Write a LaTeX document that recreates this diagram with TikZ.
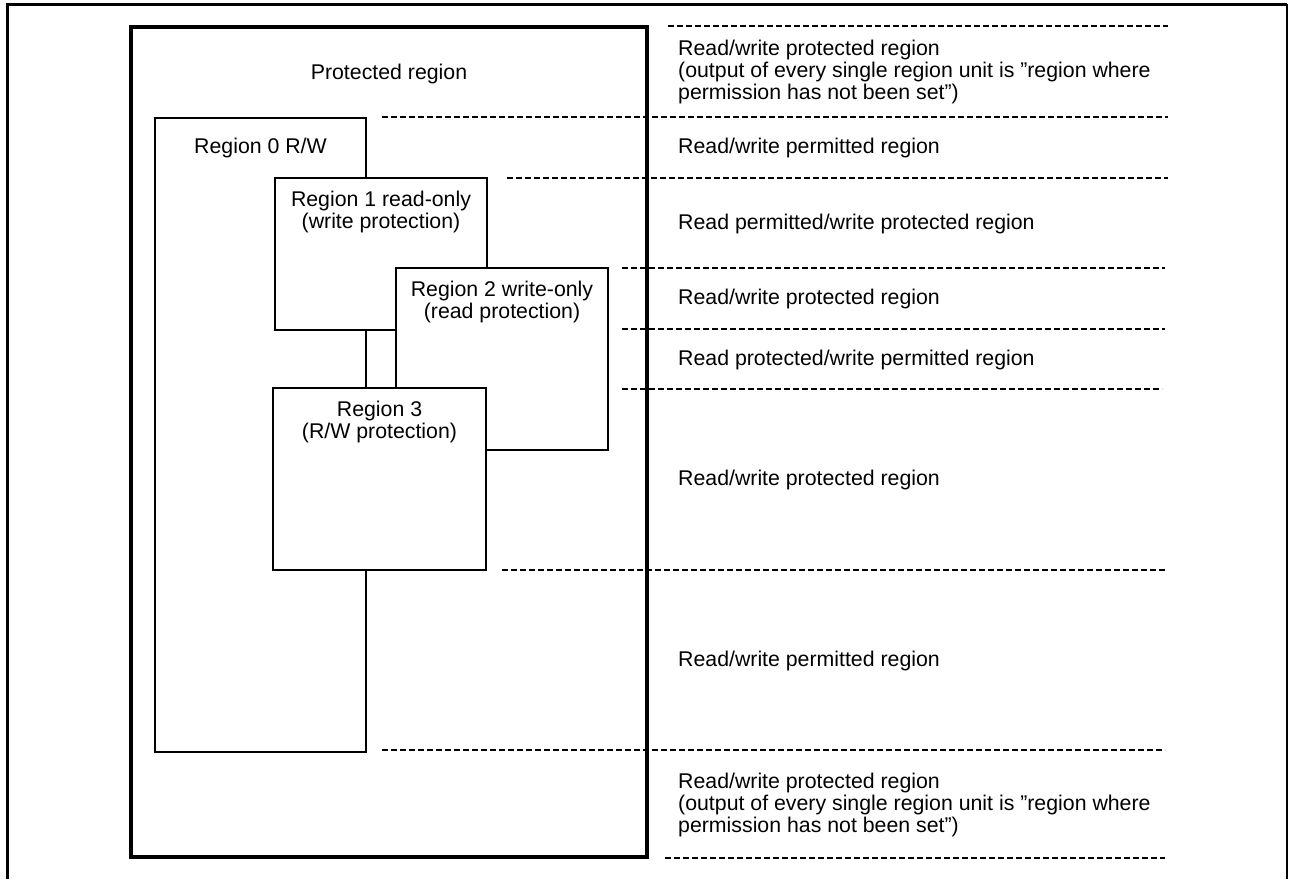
\documentclass[tikz,border=0pt]{standalone}
\usepackage{fontspec}
\setmainfont{Liberation Sans}
\usetikzlibrary{positioning,calc}

\begin{document}
\begin{tikzpicture}[x=1pt, y=-1pt,
    frame/.style={line width=3pt},
    area/.style={draw, fill=white, line width=1.3pt, inner sep=0pt},
    prot/.style={draw, line width=3.2pt, inner sep=0pt},
    border/.style={line width=1.1pt, dash pattern=on 6pt off 3pt},
    txt/.style={font=\fontsize{21.3}{22}\selectfont, inner sep=0pt, align=center, anchor=north},
    note/.style={font=\fontsize{21.3}{22}\selectfont, inner sep=0pt, align=left, anchor=west}]
  \useasboundingbox (0,0) rectangle (1290,879);
  % outer frame, open at the bottom
  \draw[frame] (7,879) -- (7,4) -- (1287,4);
  \draw[line width=1.5pt] (1287,4) -- (1287,879);
  % protected region and the four region units
  \node[prot, minimum width=516pt, minimum height=830pt] (pr) at (389,442) {};
  \node[area, minimum width=211pt, minimum height=634pt] (r0) at (260.5,435) {};
  \node[area, minimum width=212pt, minimum height=152pt] (r1) at (381,254) {};
  \node[area, minimum width=212pt, minimum height=182pt] (r2) at (502,359) {};
  \node[area, minimum width=213pt, minimum height=182pt] (r3) at (379.5,479) {};
  \node[txt, below=38pt of pr.north] (tpr) {Protected region};
  \node[txt, below=21pt of r0.north] (tr0) {Region 0 R/W};
  \node[txt, below=14pt of r1.north] (tr1) {Region 1 read-only\\(write protection)};
  \node[txt, below=14pt of r2.north] (tr2) {Region 2 write-only\\(read protection)};
  \node[txt, below=14pt of r3.north] (tr3) {Region 3\\(R/W protection)};
  % boundaries of the resulting regions
  \foreach \y/\a/\b in {26/668/1168, 117/382/1168, 178/507/1168, 268/622/1165,
      329/622/1165, 389/622/1162, 570/502/1165, 750/382/1165, 858/665/1165}
    \draw[border] (\a,\y) -- (\b,\y);
  \node[note] (l1) at (678,72) {Read/write protected region\\(output of every single region unit is ”region where\\permission has not been set”)};
  \node[note] (l2) at (678,148) {Read/write permitted region};
  \node[note] (l3) at (678,223.5) {Read permitted/write protected region};
  \node[note] (l4) at (678,299) {Read/write protected region};
  \node[note] (l5) at (678,359.5) {Read protected/write permitted region};
  \node[note] (l6) at (678,480) {Read/write protected region};
  \node[note] (l7) at (678,660.5) {Read/write permitted region};
  \node[note] (l8) at (678,804.5) {Read/write protected region\\(output of every single region unit is ”region where\\permission has not been set”)};
\end{tikzpicture}
\end{document}
